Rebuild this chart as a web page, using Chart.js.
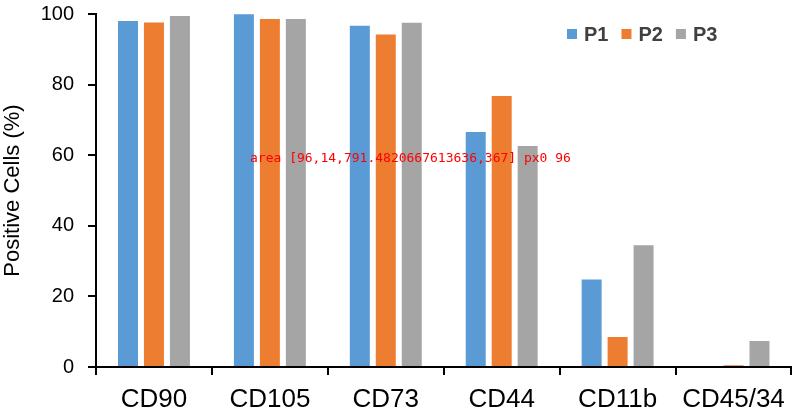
<!DOCTYPE html>
<html>
<head>
<meta charset="utf-8">
<script src="https://cdn.jsdelivr.net/npm/chart.js@4.4.1/dist/chart.umd.min.js"></script>
<style>
  html, body { margin: 0; padding: 0; background: #fff; overflow: hidden; }
  #wrap { width: 794px; height: 417px; position: relative; }
  #dbg { position: absolute; left: 250px; top: 150px; font: 13px monospace; color: red; }
</style>
</head>
<body>
<div id="wrap"><canvas id="myChart"></canvas><div id="dbg"></div></div>
<script>
// datos
const marcadores = ['CD90', 'CD105', 'CD73', 'CD44', 'CD11b', 'CD45/34'];
const valoresP1 = [98.0, 99.9, 96.7, 66.6, 24.8, 0];
const valoresP2 = [97.6, 98.6, 94.2, 76.8, 8.5, 0.5];
const valoresP3 = [99.4, 98.6, 97.5, 62.6, 34.5, 7.4];
const ticksY = [0, 20, 40, 60, 80, 100];

const azul = '#5B9BD5';
const naranja = '#ED7D31';
const gris = '#A5A5A5';
const fuente = "'Liberation Sans', Arial, sans-serif";

// ejes y marcas en negro, a partir de las escalas
const ejesPlugin = {
    id: 'ejesNegros',
    afterDraw(chart) {
        const c = chart.ctx;
        const sx = chart.scales.x;
        const sy = chart.scales.y;
        const area = chart.chartArea;
        c.save();
        c.fillStyle = '#000';
        c.fillRect(area.left - 1, area.top, 2, area.bottom - area.top + 1);
        c.fillRect(area.left - 1, area.bottom - 1, area.right - area.left + 1, 2);
        ticksY.forEach(v => {
            const py = Math.round(sy.getPixelForValue(v));
            c.fillRect(area.left - 8, py - 1, 8, 2);
        });
        for (let i = 0; i <= marcadores.length; i++) {
            const px = Math.round(sx.getPixelForValue(i - 0.5));
            c.fillRect(px - 1, area.bottom, 2, 8);
        }
        c.restore();
        document.getElementById('dbg').textContent = 'area ' + JSON.stringify([area.left, area.top, area.right, area.bottom]) + ' px0 ' + sx.getPixelForValue(-0.5);
    }
};

// leyenda dibujada a mano dentro del area del grafico
const leyendaPlugin = {
    id: 'leyendaManual',
    afterDraw(chart) {
        const c = chart.ctx;
        let x = 567;
        const y = 34;
        c.save();
        c.font = 'bold 20px ' + fuente;
        c.textBaseline = 'middle';
        chart.data.datasets.forEach(ds => {
            c.fillStyle = ds.backgroundColor;
            c.fillRect(x, y - 5, 10, 10);
            x += 17;
            c.fillStyle = '#404040';
            c.fillText(ds.label, x, y + 1);
            x += c.measureText(ds.label).width + 13;
        });
        c.restore();
    }
};

const ctx = document.getElementById('myChart');

const grafica = new Chart(ctx, {
    type: 'bar',
    data: {
        labels: marcadores,
        datasets: [
            { label: 'P1', data: valoresP1, backgroundColor: azul },
            { label: 'P2', data: valoresP2, backgroundColor: naranja },
            { label: 'P3', data: valoresP3, backgroundColor: gris }
        ]
    },
    options: {
        responsive: true,
        maintainAspectRatio: false,
        animation: false,
        categoryPercentage: 0.672,
        barPercentage: 0.77,
        layout: {
            padding: { top: 14, right: 2, bottom: 0, left: 0 }
        },
        plugins: {
            legend: { display: false },
            tooltip: { enabled: false }
        },
        scales: {
            x: {
                grid: {
                    offset: true,
                    drawOnChartArea: false,
                    tickLength: 8,
                    color: '#000',
                    lineWidth: 2
                },
                border: { color: '#000', width: 2 },
                ticks: {
                    color: '#000',
                    font: { family: fuente, size: 26 },
                    padding: 9
                },
                afterFit(scale) { scale.height = 50; }
            },
            y: {
                min: 0,
                max: 100,
                afterBuildTicks(scale) {
                    scale.ticks = ticksY.map(v => ({ value: v }));
                },
                grid: {
                    drawOnChartArea: false,
                    tickLength: 7,
                    color: '#000',
                    lineWidth: 2
                },
                border: { color: '#000', width: 2 },
                ticks: {
                    color: '#000',
                    font: { family: fuente, size: 20 },
                    padding: 15
                },
                title: {
                    display: true,
                    text: 'Positive Cells (%)',
                    color: '#000',
                    font: { family: fuente, size: 22 },
                    padding: { top: 0, bottom: 0 }
                },
                afterFit(scale) {
                    scale.width = 96;
                    scale.paddingTop = 0;
                    scale.paddingBottom = 0;
                }
            }
        }
    },
    plugins: [ejesPlugin, leyendaPlugin]
});
</script>
</body>
</html>
